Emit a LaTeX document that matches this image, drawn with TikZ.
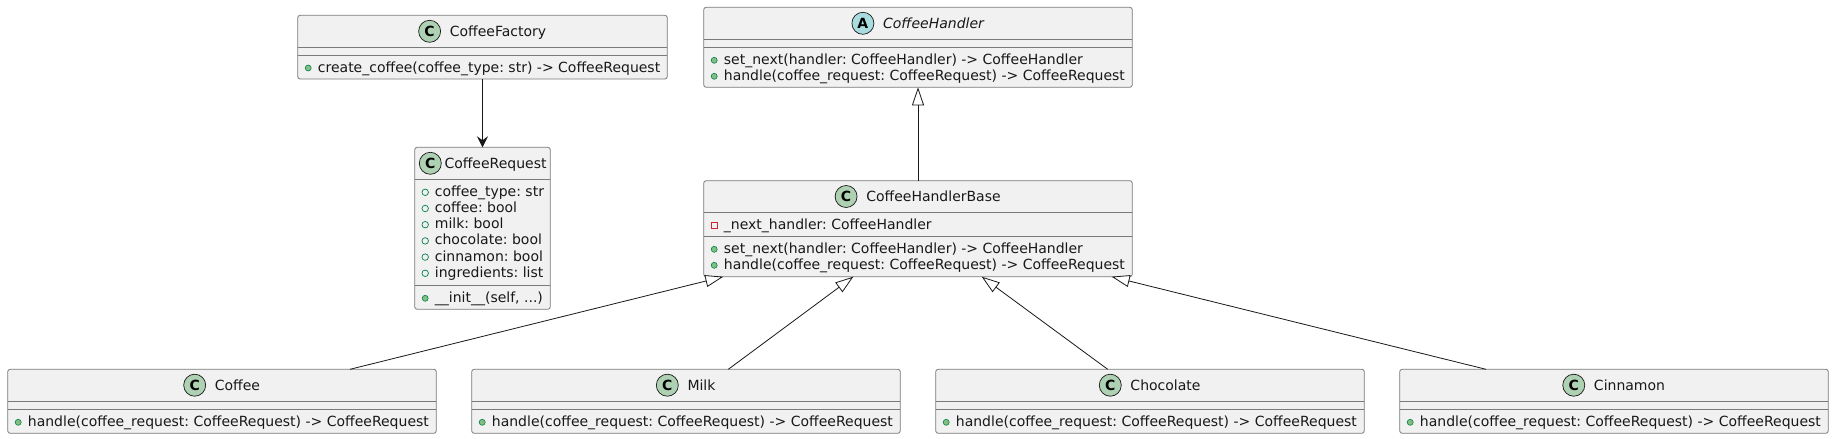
\documentclass[tikz,border=0pt]{standalone}
\usepackage{fontspec}
\setmainfont{DejaVu Sans}
\usetikzlibrary{arrows.meta}
\definecolor{boxfill}{HTML}{F1F1F1}
\definecolor{boxline}{HTML}{7A7A7A}
\definecolor{ink}{HTML}{181818}
\definecolor{pubfill}{HTML}{84BE84}
\definecolor{publine}{HTML}{038048}
\definecolor{privline}{HTML}{C82930}
\definecolor{cfill}{HTML}{ADD1B2}
\definecolor{afill}{HTML}{A9DCDF}
\newcommand\member[5]{% name, box left x, line centre y, marker style, text
  \node[#4] (#1m) at (#2+10.5,#3+1) {};
  \node[mem] (#1) at (#2+20,#3+5) {#5};
}
\newcommand\sepline[2]{\draw[sepl] ([yshift=-#2pt]#1.north west) -- ([yshift=-#2pt]#1.north east);}
\newcommand\header[6]{% name, centre x, centre y, circle style, letter, text
  \node[cname] (#1) at (#2+15.5,#3+5) {#6};
  \node[#4] (#1c) at ([xshift=-20pt,yshift=5pt]#1.base west) {#5};
}
\begin{document}
\frenchspacing
\begin{tikzpicture}[x=1pt,y=-1pt,
  box/.style={draw=boxline,fill=boxfill,line width=0.8pt,rounded corners=2.5pt,
    inner sep=0pt,outer sep=0pt,anchor=north west},
  sepl/.style={draw=boxline,line width=0.8pt},
  mem/.style={anchor=base west,inner sep=0pt,font=\fontsize{14}{16}\selectfont\frenchspacing,text=ink},
  cname/.style={anchor=base,inner sep=0pt,font=\fontsize{14}{16}\selectfont,text=ink},
  pubm/.style={circle,draw=publine,fill=pubfill,line width=0.6pt,minimum size=6pt,inner sep=0pt},
  pubf/.style={circle,draw=publine,line width=0.7pt,minimum size=6.5pt,inner sep=0pt},
  privf/.style={rectangle,draw=privline,line width=0.7pt,minimum size=6pt,inner sep=0pt},
  ccirc/.style={circle,draw=ink,fill=cfill,line width=0.7pt,minimum size=22pt,inner sep=0pt,
    font=\fontsize{14}{14}\selectfont\bfseries,text=black},
  acirc/.style={ccirc,fill=afill},
  inh/.style={draw=ink,line width=0.8pt,-{Triangle[length=18pt,width=12pt,fill=white]}},
  assoc/.style={draw=ink,line width=0.9pt,-{Stealth[length=11pt,width=11pt,inset=4pt]}}
]
\useasboundingbox[fill=white] (0,0) rectangle (1834,439);

% ---- boxes
\node[box,minimum width=369.6pt,minimum height=63.7pt] (factory) at (297.7,15.3) {};
\node[box,minimum width=135.6pt,minimum height=162pt] (request) at (414.7,147.3) {};
\node[box,minimum width=428.6pt,minimum height=80pt] (handler) at (703.7,7.3) {};
\node[box,minimum width=428.6pt,minimum height=96pt] (base) at (703.7,180.7) {};
\node[box,minimum width=428.6pt,minimum height=64pt] (coffee) at (7.7,369.3) {};
\node[box,minimum width=428.6pt,minimum height=64pt] (milk) at (471.7,369.3) {};
\node[box,minimum width=428.6pt,minimum height=64pt] (choc) at (935.7,369.3) {};
\node[box,minimum width=428.6pt,minimum height=64pt] (cinn) at (1399.7,369.3) {};

% ---- separators
\sepline{factory}{32}\sepline{factory}{39.7}
\sepline{request}{32}\sepline{request}{138}
\sepline{handler}{32}\sepline{handler}{40}
\sepline{base}{31.6}\sepline{base}{55.6}
\sepline{coffee}{31.7}\sepline{coffee}{40}
\sepline{milk}{31.7}\sepline{milk}{40}
\sepline{choc}{31.7}\sepline{choc}{40}
\sepline{cinn}{31.7}\sepline{cinn}{40}

% ---- headers
\header{factoryN}{482.5}{31.3}{ccirc}{C}{CoffeeFactory}
\node[cname,anchor=base west] (requestN) at (444.3,168.3) {CoffeeRequest};
\node[ccirc] (requestNc) at (430.3,163.3) {C};
\header{handlerN}{918}{23.3}{acirc}{A}{\itshape CoffeeHandler}
\header{baseN}{918}{196.5}{ccirc}{C}{CoffeeHandlerBase}
\header{coffeeN}{222}{385.2}{ccirc}{C}{Coffee}
\header{milkN}{686}{385.2}{ccirc}{C}{Milk}
\header{chocN}{1150}{385.2}{ccirc}{C}{Chocolate}
\header{cinnN}{1614}{385.2}{ccirc}{C}{Cinnamon}

% ---- members
\member{f1}{297.7}{67}{pubm}{create\_coffee(coffee\_type: str) -> CoffeeRequest}

\member{r1}{414.7}{191.3}{pubf}{coffee\_type: str}
\member{r2}{414.7}{207.5}{pubf}{coffee: bool}
\member{r3}{414.7}{223.7}{pubf}{milk: bool}
\member{r4}{414.7}{239.9}{pubf}{chocolate: bool}
\member{r5}{414.7}{256.1}{pubf}{cinnamon: bool}
\member{r6}{414.7}{272.3}{pubf}{ingredients: list}
\member{r7}{414.7}{297.3}{pubm}{\_\_init\_\_(self, ...)}

\member{h1}{703.7}{59.3}{pubm}{set\_next(handler: CoffeeHandler) -> CoffeeHandler}
\member{h2}{703.7}{75.3}{pubm}{handle(coffee\_request: CoffeeRequest) -> CoffeeRequest}

\member{b1}{703.7}{224.3}{privf}{\_next\_handler: CoffeeHandler}
\member{b2}{703.7}{248.3}{pubm}{set\_next(handler: CoffeeHandler) -> CoffeeHandler}
\member{b3}{703.7}{264.3}{pubm}{handle(coffee\_request: CoffeeRequest) -> CoffeeRequest}

\member{c1}{7.7}{421.3}{pubm}{handle(coffee\_request: CoffeeRequest) -> CoffeeRequest}
\member{m1}{471.7}{421.3}{pubm}{handle(coffee\_request: CoffeeRequest) -> CoffeeRequest}
\member{k1}{935.7}{421.3}{pubm}{handle(coffee\_request: CoffeeRequest) -> CoffeeRequest}
\member{n1}{1399.7}{421.3}{pubm}{handle(coffee\_request: CoffeeRequest) -> CoffeeRequest}

% ---- connectors
\draw[assoc] (factory.south) -- (factory.south |- request.north);
\draw[inh] (base.north) -- (handler.south);
\draw[inh] ([xshift=342.3pt]coffee.north west) -- ([xshift=19.6pt]base.south west);
\draw[inh] ([xshift=256.6pt]milk.north west) -- ([xshift=149.6pt]base.south west);
\draw[inh] ([xshift=172pt]choc.north west) -- ([xshift=278pt]base.south west);
\draw[inh] ([xshift=86.3pt]cinn.north west) -- ([xshift=408pt]base.south west);
\end{tikzpicture}
\end{document}
